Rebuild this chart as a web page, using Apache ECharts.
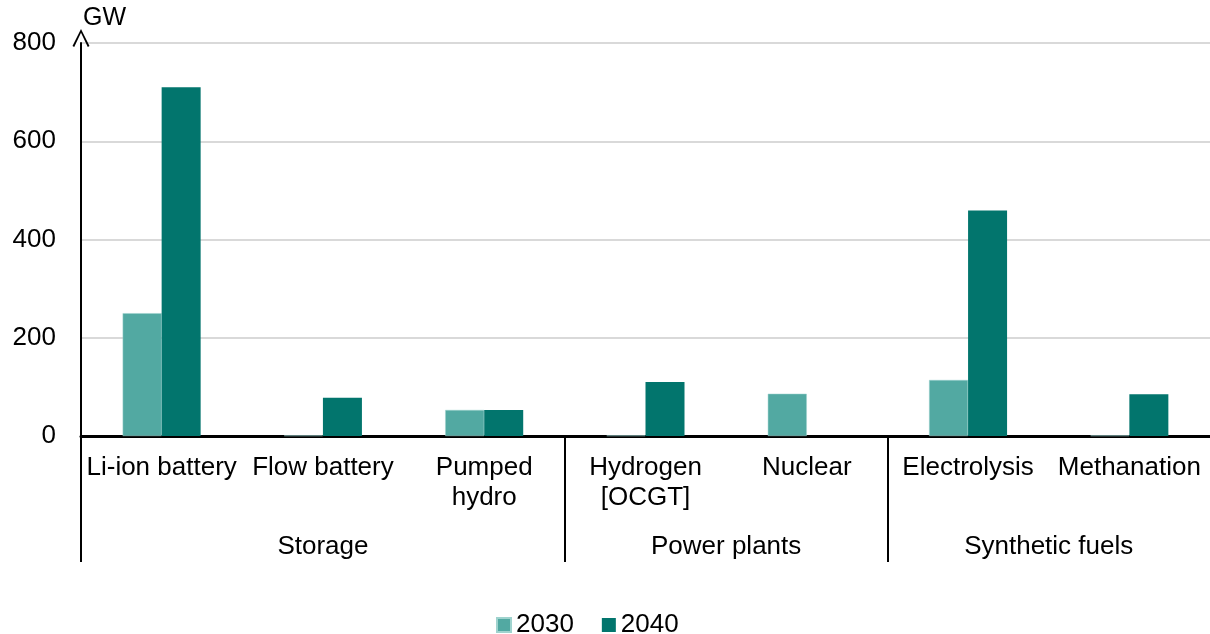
<!DOCTYPE html>
<html>
<head>
<meta charset="utf-8">
<script src="https://cdn.jsdelivr.net/npm/echarts@6/dist/echarts.min.js"></script>
<style>
  html, body { margin: 0; padding: 0; background: #fff; }
  #chart { width: 1210px; height: 634px; }
</style>
</head>
<body>
<div id="chart"></div>
<script>
var categories = ['Li-ion battery', 'Flow battery', 'Pumped\nhydro', 'Hydrogen\n[OCGT]', 'Nuclear', 'Electrolysis', 'Methanation']
var values2030 = [250, 1, 53, 1, 86, 114, 1]
var values2040 = [710, 78, 53, 110, 0, 459, 85]
var groupNames = ['Storage', 'Power plants', 'Synthetic fuels']
var groupCenters = [1.5, 4, 6]
var groupDividers = [0, 3, 5]
var yTicks = [0, 200, 400, 600, 800]

var font = 'Liberation Sans, Arial, sans-serif'
var chart = echarts.init(document.getElementById('chart'))
chart.setOption({
    animation: false,
    textStyle: { fontFamily: font },
    grid: { left: 81, right: 0, top: 43, bottom: 198, containLabel: false },
    legend: {
        top: 607,
        left: 491,
        itemWidth: 14,
        itemHeight: 14,
        itemGap: 28,
        icon: 'rect',
        textStyle: { fontSize: 26, color: '#000', fontFamily: font },
        data: ['2030', '2040']
    },
    xAxis: [
        {
            type: 'category',
            data: categories,
            axisLine: { lineStyle: { color: '#000', width: 3 } },
            axisTick: { show: false },
            axisLabel: { color: '#000', fontSize: 26, lineHeight: 30, margin: 17, interval: 0, fontFamily: font }
        },
        {
            type: 'value',
            min: 0,
            max: 7,
            position: 'bottom',
            axisLine: { show: false },
            splitLine: { show: false },
            axisTick: { show: true, length: 126, customValues: groupDividers, lineStyle: { color: '#000', width: 2 } },
            axisLabel: {
                color: '#000', fontSize: 26, margin: 98, fontFamily: font,
                customValues: groupCenters,
                formatter: function (v) {
                    var i = groupCenters.indexOf(v)
                    return i >= 0 ? groupNames[i] : ''
                }
            }
        }
    ],
    yAxis: {
        type: 'value',
        min: 0,
        max: 800,
        interval: 200,
        name: 'GW',
        nameLocation: 'end',
        nameGap: 12,
        nameTextStyle: { color: '#000', fontSize: 25, align: 'left', padding: [0, 0, 0, 2], fontFamily: font },
        axisLine: {
            show: true,
            lineStyle: { color: '#000', width: 2 },
            symbol: ['none', 'path://M0,10 L5,0 L10,10 L9,10.6 L5,2.2 L1,10.6 Z'],
            symbolSize: [20, 18],
            symbolOffset: [0, 5]
        },
        axisTick: { show: false },
        axisLabel: {
            color: '#000', fontSize: 26, margin: 25, fontFamily: font,
            customValues: yTicks
        },
        splitLine: { lineStyle: { color: '#d9d9d9', width: 2 } }
    },
    series: [
        {
            name: '2030',
            type: 'bar',
            data: values2030,
            barWidth: 39,
            barGap: '0%',
            itemStyle: { color: '#52a9a2', borderColor: '#9fd3ce', borderWidth: 0.5 }
        },
        {
            name: '2040',
            type: 'bar',
            data: values2040,
            barWidth: 39,
            barGap: '0%',
            itemStyle: { color: '#02756d' }
        }
    ]
})
</script>
</body>
</html>
